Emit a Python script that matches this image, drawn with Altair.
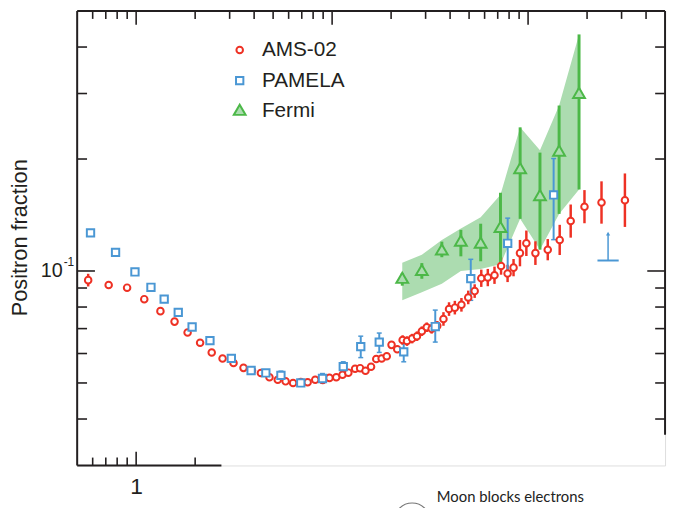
import altair as alt
import pandas as pd

# ---------------- data ----------------
ams_E = [0.569, 0.724, 0.899, 1.10, 1.33, 1.57, 1.83, 2.12, 2.43, 2.76,
         3.14, 3.53, 3.90, 4.33, 4.79, 5.28, 5.79, 6.32, 6.92, 7.50,
         8.20, 8.96, 9.69, 10.5, 11.3, 12.1, 13.1, 13.9, 14.8, 15.8,
         16.8, 17.9, 19.0, 20.1, 21.5, 22.9, 24.1, 25.6, 27.1, 28.7,
         30.4, 32.2, 34.4, 37.0, 39.5, 42.3, 45.7, 49.5, 53.4, 57.7,
         62.3, 67.4, 72.8, 78.6, 84.3, 90.9, 98.0, 109, 126, 145,
         165, 194, 237, 312]
ams_f = [0.0945, 0.0917, 0.0902, 0.0840, 0.0780, 0.0731, 0.0683, 0.0641, 0.0604, 0.0582,
         0.0566, 0.0549, 0.0540, 0.0532, 0.0518, 0.0510, 0.0505, 0.0500, 0.0503, 0.0502,
         0.0510, 0.0509, 0.0516, 0.0518, 0.0526, 0.0533, 0.0546, 0.0548, 0.0539, 0.0553,
         0.0580, 0.0582, 0.0590, 0.0633, 0.0616, 0.0652, 0.0648, 0.0658, 0.0668, 0.0689,
         0.0706, 0.0699, 0.0712, 0.0743, 0.0790, 0.0797, 0.0811, 0.0849, 0.0883, 0.0956,
         0.0960, 0.0974, 0.1031, 0.0985, 0.1021, 0.1117, 0.1187, 0.1117, 0.1141, 0.1212,
         0.1362, 0.1489, 0.1528, 0.1550]
ams_rel_err = [0.040, 0.025, 0.018, 0.010, 0.010, 0.010, 0.010, 0.010, 0.010, 0.010,
               0.010, 0.010, 0.010, 0.010, 0.010, 0.010, 0.010, 0.010, 0.010, 0.010,
               0.010, 0.010, 0.010, 0.010, 0.010, 0.010, 0.010, 0.010, 0.010, 0.018,
               0.018, 0.018, 0.018, 0.018, 0.018, 0.030, 0.030, 0.030, 0.030, 0.030,
               0.030, 0.030, 0.030, 0.043, 0.043, 0.043, 0.043, 0.043, 0.043, 0.055,
               0.055, 0.055, 0.055, 0.055, 0.055, 0.085, 0.082, 0.076, 0.068, 0.098,
               0.108, 0.108, 0.140, 0.180]

pam_E = [0.585, 0.785, 0.986, 1.19, 1.39, 1.64, 1.93, 2.38, 3.06, 3.86, 4.59,
         5.48, 6.92, 8.93, 11.4, 14.0, 17.4, 23.2, 33.6, 51.0, 78.7, 135]
pam_f = [0.1266, 0.1122, 0.0994, 0.0904, 0.0840, 0.0774, 0.0707, 0.0650, 0.0582, 0.0540, 0.0532,
         0.0524, 0.0500, 0.0514, 0.0553, 0.0626, 0.0644, 0.0606, 0.0709, 0.0954, 0.1187, 0.1601]
pam_lo = [0.1266, 0.1122, 0.0994, 0.0904, 0.0840, 0.0774, 0.0707, 0.0650, 0.0582, 0.0540, 0.0532,
          0.0512, 0.0490, 0.0500, 0.0537, 0.0585, 0.0604, 0.0570, 0.0644, 0.0834, 0.0982, 0.1214]
pam_hi = [0.1266, 0.1122, 0.0994, 0.0904, 0.0840, 0.0774, 0.0707, 0.0650, 0.0582, 0.0540, 0.0532,
          0.0538, 0.0510, 0.0530, 0.0570, 0.0668, 0.0681, 0.0654, 0.0785, 0.1075, 0.1387, 0.2006]
# PAMELA upper limit (horizontal bar with upward arrow)
pam_ul_E = [256]
pam_ul_E_lo = [226]
pam_ul_E_hi = [290]
pam_ul_f = [0.1067]
pam_ul_top = [0.126]

fermi_E = [22.8, 28.7, 36.3, 45.4, 57.3, 72.3, 91.1, 115, 144, 182]
fermi_f = [0.0950, 0.0997, 0.1132, 0.1196, 0.1181, 0.1302, 0.1873, 0.1585, 0.2088, 0.2985]
fermi_lo = [0.0913, 0.0953, 0.1089, 0.1095, 0.1062, 0.1050, 0.1381, 0.1141, 0.1424, 0.1656]
fermi_hi = [0.0988, 0.1050, 0.1199, 0.1290, 0.1340, 0.1623, 0.2433, 0.2081, 0.2785, 0.4325]
band_lo = [0.0834, 0.0877, 0.0924, 0.1000, 0.1012, 0.1043, 0.1381, 0.1141, 0.1424, 0.1656]
band_hi = [0.1052, 0.1106, 0.1212, 0.1300, 0.1395, 0.1604, 0.2433, 0.2111, 0.2785, 0.4325]

series_names = ["AMS-02", "PAMELA", "Fermi"]

x_major_ticks = [1, 10, 100]
x_minor_ticks = [0.6, 0.7, 0.8, 0.9, 2, 3, 4, 5, 6, 7, 8, 9,
                 20, 30, 40, 50, 60, 70, 80, 90, 200, 300, 400]
y_major_ticks = [0.1]
y_minor_ticks = [0.04, 0.05, 0.06, 0.07, 0.08, 0.09, 0.2, 0.3, 0.4]

# ---------------- styling ----------------
W, H = 595, 460
RED = "#ee3124"
BLUE = "#4a97d4"
GREEN = "#4cb848"
BAND = "#acdcb0"
INK = "#231f20"
FONT = "Liberation Sans"
SYM = 44
SQUARE = "M-1.12,-1.12L1.12,-1.12L1.12,1.12L-1.12,1.12Z"
TRIANGLE = "M0,-2L1.8,1.1L-1.8,1.1Z"

xs = alt.Scale(type="log", domain=[0.5, 500], nice=False)
ys = alt.Scale(type="log", domain=[0.03, 0.5], nice=False)

xaxis = alt.Axis(values=[1], format="~g", ticks=False, tickSize=0, domain=False, grid=False,
                 labelFont=FONT, labelFontSize=23, labelPadding=10, labelColor=INK, title=None)
yaxis = alt.Axis(values=[0.1], labelExpr="'10'", ticks=False, tickSize=0, domain=False, grid=False,
                 labelFont=FONT, labelFontSize=20, labelPadding=15, labelColor=INK,
                 title="Positron fraction", titleFont=FONT, titleFontSize=22,
                 titleFontWeight="normal", titleColor=INK, titleAngle=270,
                 titleX=-58, titleY=229, titleAlign="center", titleBaseline="middle")


def X(f):
    return alt.X(f, type="quantitative", scale=xs, axis=xaxis)


def Y(f):
    return alt.Y(f, type="quantitative", scale=ys, axis=yaxis)


# ---------------- tables ----------------
ams = pd.DataFrame({"E": ams_E, "f": ams_f, "e": ams_rel_err})
ams["lo"] = ams["f"] / (1 + ams["e"])
ams["hi"] = ams["f"] * (1 + ams["e"])

pam = pd.DataFrame({"E": pam_E, "f": pam_f, "lo": pam_lo, "hi": pam_hi})
pam_err = pam[pam["hi"] > pam["lo"]]
pam_caps = pd.concat([pam_err[["E", "lo"]].rename(columns={"lo": "c"}),
                      pam_err[["E", "hi"]].rename(columns={"hi": "c"})])

fermi = pd.DataFrame({"E": fermi_E, "f": fermi_f, "lo": fermi_lo, "hi": fermi_hi,
                      "band_lo": band_lo, "band_hi": band_hi})

ul = pd.DataFrame({"E": pam_ul_E, "Elo": pam_ul_E_lo, "Ehi": pam_ul_E_hi,
                   "f": pam_ul_f, "top": pam_ul_top})

pts = pd.concat([
    pd.DataFrame({"series": series_names[0], "E": ams_E, "f": ams_f}),
    pd.DataFrame({"series": series_names[1], "E": pam_E, "f": pam_f}),
    pd.DataFrame({"series": series_names[2], "E": fermi_E, "f": fermi_f}),
])

one = pd.DataFrame({"a": [0]})

# ---------------- layers ----------------
band = alt.Chart(fermi).mark_area(color=BAND, opacity=1).encode(
    x=X("E"), y=Y("band_lo"), y2=alt.Y2("band_hi"))

ams_bars = alt.Chart(ams).mark_rule(color=RED, strokeWidth=2.5).encode(
    x=X("E"), y=Y("lo"), y2=alt.Y2("hi"))

pam_bars = alt.Chart(pam_err).mark_rule(color=BLUE, strokeWidth=2).encode(
    x=X("E"), y=Y("lo"), y2=alt.Y2("hi"))
pam_cap = alt.Chart(pam_caps).mark_tick(color=BLUE, orient="horizontal", size=5,
                                        thickness=1.5, opacity=1).encode(
    x=X("E"), y=Y("c"))

fermi_bars = alt.Chart(fermi).mark_rule(color=GREEN, strokeWidth=3).encode(
    x=X("E"), y=Y("lo"), y2=alt.Y2("hi"))

leg = alt.Legend(title=None, orient="none", legendX=154, legendY=29, padding=0,
                 labelFont=FONT, labelFontSize=21, labelColor=INK, labelOffset=12,
                 rowPadding=9, symbolStrokeWidth=2, symbolSize=SYM)

points = alt.Chart(pts).mark_point(opacity=1, strokeWidth=2, size=SYM).encode(
    x=X("E"), y=Y("f"),
    stroke=alt.Stroke("series:N", scale=alt.Scale(domain=series_names, range=[RED, BLUE, GREEN]), legend=leg),
    fill=alt.Fill("series:N", scale=alt.Scale(domain=series_names, range=["white", "white", BAND]), legend=leg),
    shape=alt.Shape("series:N", scale=alt.Scale(domain=series_names, range=["circle", SQUARE, TRIANGLE]), legend=leg),
)

ul_bar = alt.Chart(ul).mark_rule(color=BLUE, strokeWidth=2).encode(
    x=X("Elo"), x2=alt.X2("Ehi"), y=Y("f"))
ul_stem = alt.Chart(ul).mark_rule(color=BLUE, strokeWidth=1.5).encode(
    x=X("E"), y=Y("f"), y2=alt.Y2("top"))
ul_head = alt.Chart(ul).mark_point(color=BLUE, shape="triangle-up", filled=True, size=18, opacity=1).encode(
    x=X("E"), y=Y("top"))


def xticks(vals, y0, y1):
    return alt.Chart(pd.DataFrame({"v": vals})).mark_rule(color=INK, strokeWidth=1.6).encode(
        x=X("v"), y=alt.value(y0), y2=alt.value(y1))


def yticks(vals, x0, x1):
    return alt.Chart(pd.DataFrame({"v": vals})).mark_rule(color=INK, strokeWidth=1.6).encode(
        y=Y("v"), x=alt.value(x0), x2=alt.value(x1))


XMIN, XMAJ, YMIN, YMAJ = 8, 14, 10, 18
bottom_visible = lambda vals: [v for v in vals if v < 2.7]
ticks = [
    xticks(x_minor_ticks, 0, XMIN), xticks(x_major_ticks, 0, XMAJ),
    xticks(bottom_visible(x_minor_ticks), H, H - XMIN), xticks(bottom_visible(x_major_ticks), H, H - XMAJ),
    yticks(y_minor_ticks, 0, YMIN), yticks(y_major_ticks, 0, YMAJ),
    yticks(y_minor_ticks, W, W - YMIN), yticks(y_major_ticks, W, W - YMAJ),
]

frame = [
    alt.Chart(one).mark_rule(color=INK, strokeWidth=2).encode(x=alt.value(0), y=alt.value(0), y2=alt.value(H)),
    alt.Chart(one).mark_rule(color=INK, strokeWidth=2).encode(x=alt.value(0), x2=alt.value(W), y=alt.value(0)),
    alt.Chart(one).mark_rule(color=INK, strokeWidth=2).encode(x=alt.value(W), y=alt.value(0), y2=alt.value(429)),
    alt.Chart(one).mark_rule(color=INK, strokeWidth=2).encode(x=alt.value(0), x2=alt.value(146), y=alt.value(H)),
]

sup = alt.Chart(pd.DataFrame({"v": [0.1]})).mark_text(
    text="-1", font=FONT, fontSize=12, align="right", baseline="alphabetic", color=INK, dy=-5).encode(
    x=alt.value(-3), y=Y("v"))

moon_text = alt.Chart(one).mark_text(
    text="Moon blocks electrons", font="Lato", fontSize=15, align="left",
    baseline="alphabetic", color="#222222").encode(x=alt.value(364), y=alt.value(497))
moon_arc = alt.Chart(one).mark_point(shape="circle", filled=False, size=1300, color="#777777",
                                     strokeWidth=1.2, opacity=1).encode(x=alt.value(339), y=alt.value(516))

chart = alt.layer(
    band, ams_bars, pam_bars, pam_cap, fermi_bars, points, ul_bar, ul_stem, ul_head,
    *ticks, *frame, sup, moon_text, moon_arc,
).properties(
    width=W, height=H,
    padding={"left": 70, "top": 0, "right": 4, "bottom": 40},
    autosize=alt.AutoSizeParams(type="none"),
).configure_view(stroke=None).configure(background="white")

chart.save("out.html", embed_options={"renderer": "svg", "actions": False})
